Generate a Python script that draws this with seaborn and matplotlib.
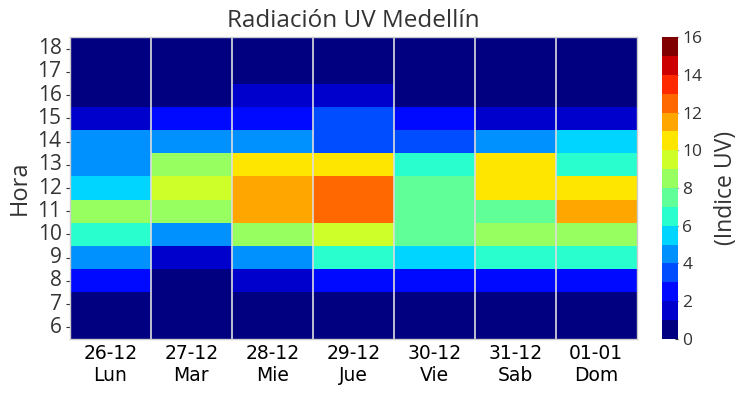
import numpy as np
import pandas as pd
import matplotlib
matplotlib.use("Agg")
import matplotlib.pyplot as plt
import seaborn as sns

# UV index per hour (rows 18 -> 6) for each day
horas = [18, 17, 16, 15, 14, 13, 12, 11, 10, 9, 8, 7, 6]
fechas = ["26-12", "27-12", "28-12", "29-12", "30-12", "31-12", "01-01"]
dias = ["Lun", "Mar", "Mie", "Jue", "Vie", "Sab", "Dom"]

lun = [0, 0, 0, 1, 4, 4, 5, 8, 6, 4, 2, 0, 0]
mar = [0, 0, 0, 2, 4, 8, 9, 8, 4, 1, 0, 0, 0]
mie = [0, 0, 1, 2, 4, 10, 11, 11, 8, 4, 1, 0, 0]
jue = [0, 0, 1, 3, 3, 10, 12, 12, 9, 6, 2, 0, 0]
vie = [0, 0, 0, 2, 3, 6, 7, 7, 7, 5, 2, 0, 0]
sab = [0, 0, 0, 1, 4, 10, 10, 7, 8, 6, 2, 0, 0]
dom = [0, 0, 0, 1, 5, 6, 10, 11, 8, 6, 2, 0, 0]

etiquetas = [f + "\n" + d for f, d in zip(fechas, dias)]
df = pd.DataFrame(
    np.array([lun, mar, mie, jue, vie, sab, dom]).T + 0.5,
    index=horas,
    columns=etiquetas,
)

sns.set_style("white")
plt.rcParams["font.family"] = ["Open Sans", "DejaVu Sans"]

fig = plt.figure(figsize=(7.43, 3.95), dpi=100)
ax = fig.add_axes([0.094, 0.142, 0.763, 0.764])
cax = fig.add_axes([0.891, 0.142, 0.021, 0.764])

cmap = plt.get_cmap("jet", 16)
sns.heatmap(df, ax=ax, cbar_ax=cax, cmap=cmap, vmin=0, vmax=16,
            cbar_kws={"ticks": range(0, 17, 2)})

for x in range(1, len(etiquetas)):
    ax.axvline(x, color="#dddddd", lw=1.2)

for s in ax.spines.values():
    s.set_visible(True)
    s.set_color("#cccccc")
    s.set_linewidth(1)

ax.set_title("Radiación UV Medellín", fontsize=17.5, color="#333333", pad=7)
ax.set_ylabel("Hora", fontsize=17, color="#333333")
ax.set_xlabel("")
ax.set_yticklabels(horas, rotation=0, fontsize=15, color="#333333")
ax.set_xticklabels(etiquetas, rotation=0, fontsize=13.5, family="DejaVu Sans",
                   color="black")
ax.tick_params(axis="x", direction="in", length=4, color="#333333", pad=4)
ax.tick_params(axis="y", direction="out", length=3, color="#333333", pad=3)
ax.xaxis.set_ticks_position("bottom")
ax.yaxis.set_ticks_position("left")

cbar = ax.collections[0].colorbar
cbar.outline.set_visible(True)
cbar.outline.set_edgecolor("#cccccc")
cbar.ax.tick_params(labelsize=12.5, colors="#333333", length=2, direction="in")
cbar.set_label("(Indice UV)", fontsize=16.5, color="#333333", labelpad=8)

fig.savefig("out.png", dpi=100)
